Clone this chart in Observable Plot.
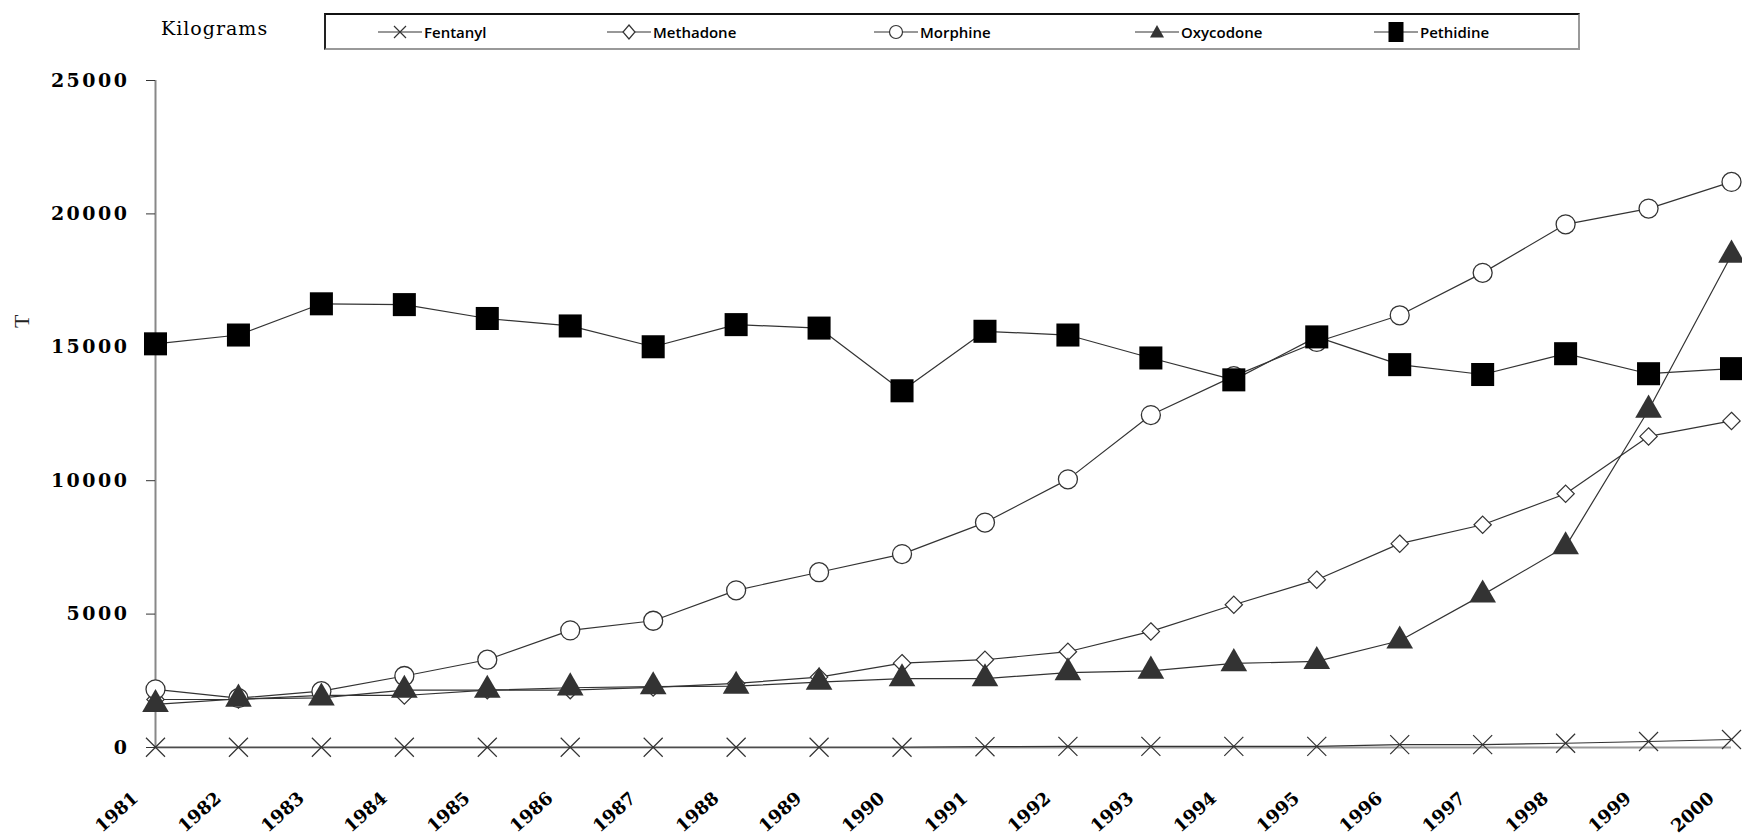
<!DOCTYPE html>
<html>
<head>
<meta charset="utf-8">
<script src="https://cdn.jsdelivr.net/npm/d3@7"></script>
<script src="https://cdn.jsdelivr.net/npm/@observablehq/plot@0.6"></script>
<style>
  body { margin: 0; background: #fff; }
  #wrap { position: relative; width: 1742px; height: 838px; overflow: hidden; }
  #head { position: relative; width: 1742px; height: 55px; }
  #kg { position: absolute; left: 161px; top: 17px; font-family: "DejaVu Serif"; font-size: 19px; letter-spacing: 1px; color: #000; }
  #legend { position: absolute; left: 324px; top: 13px; width: 1256px; height: 37px; box-sizing: border-box;
            border-top: 2px solid #111; border-left: 2px solid #222; border-right: 2px solid #999; border-bottom: 2px solid #999; }
  .item { position: absolute; top: 0; height: 100%; display: flex; align-items: center;
          font-family: "Open Sans"; font-weight: 600; font-size: 15px; color: #000; white-space: nowrap; }
  .item svg { margin-right: 2px; display: block; }
  #chart svg g[aria-label="y-axis tick label"] text { letter-spacing: 2.5px; }
</style>
</head>
<body>
<div id="wrap">
  <div id="head">
    <div id="kg">Kilograms</div>
    <div id="legend"></div>
  </div>
  <div id="chart"></div>
</div>
<script>
// ---- data (kilograms) ----
const years = [1981, 1982, 1983, 1984, 1985, 1986, 1987, 1988, 1989, 1990,
               1991, 1992, 1993, 1994, 1995, 1996, 1997, 1998, 1999, 2000];
const seriesNames = ["Fentanyl", "Methadone", "Morphine", "Oxycodone", "Pethidine"];
const fentanyl  = [10, 10, 10, 10, 10, 10, 10, 10, 10, 10, 30, 40, 40, 40, 40, 110, 110, 160, 225, 300];
const methadone = [1800, 1800, 1950, 1950, 2150, 2150, 2250, 2400, 2640, 3160, 3290, 3590, 4350, 5350, 6290, 7640, 8350, 9510, 11660, 12240];
const morphine  = [2180, 1850, 2110, 2680, 3290, 4390, 4750, 5890, 6570, 7250, 8430, 10050, 12460, 13920, 15200, 16200, 17790, 19610, 20200, 21200];
const oxycodone = [1620, 1820, 1860, 2150, 2150, 2240, 2280, 2300, 2450, 2580, 2580, 2810, 2870, 3150, 3230, 4000, 5720, 7530, 12650, 18460];
const pethidine = [15130, 15460, 16630, 16600, 16080, 15800, 15020, 15850, 15720, 13370, 15600, 15460, 14600, 13780, 15390, 14350, 13980, 14760, 14010, 14200];
const yTicks = [0, 5000, 10000, 15000, 20000, 25000];

const valuesByName = {Fentanyl: fentanyl, Methadone: methadone, Morphine: morphine, Oxycodone: oxycodone, Pethidine: pethidine};

// ---- styles ----
const styles = {
  Fentanyl:  {symbol: "times",    r: 8.7,  fill: "none",  stroke: "#333", sw: 1.2},
  Methadone: {symbol: "diamond2", r: 7.8,  fill: "#fff",  stroke: "#333", sw: 1.2},
  Morphine:  {symbol: "circle",   r: 9.5,  fill: "#fff",  stroke: "#333", sw: 1.3},
  Oxycodone: {symbol: "triangle", r: 9.9,  fill: "#333",  stroke: "none", sw: 0},
  Pethidine: {symbol: "square",   r: 13,   fill: "#000",  stroke: "none", sw: 0}
};
const legendLeft = {Fentanyl: 52, Methadone: 281, Morphine: 548, Oxycodone: 809, Pethidine: 1048};

const rows = seriesNames.flatMap(name => years.map((yr, i) => ({name, year: yr, value: valuesByName[name][i]})));

const font = {fontFamily: "DejaVu Serif", fontWeight: "bold"};

const marks = [
  Plot.ruleY([0], {x1: 1981, x2: 2000, stroke: "#999", strokeWidth: 2}),
  Plot.ruleX([1981], {y1: 0, y2: 25000, stroke: "#888", strokeWidth: 2}),
  Plot.axisY({ticks: yTicks, tickSize: 9, tickPadding: 17, tickFormat: d => String(d),
              stroke: "#333", fill: "#000", label: null, fontSize: 19, ...font}),
  Plot.text(years, {x: d => d, frameAnchor: "bottom", text: d => String(d), rotate: -42,
                    textAnchor: "end", lineAnchor: "middle", dx: -20, dy: 48, fill: "#000",
                    fontSize: 18, ...font}),
  Plot.text(["T"], {frameAnchor: "left", rotate: -90, dx: -134, dy: -86, fontFamily: "Liberation Serif", fontSize: 22, fill: "#222"})
];
for (const name of seriesNames) {
  const data = rows.filter(d => d.name === name);
  marks.push(Plot.line(data, {x: "year", y: "value", stroke: "#333", strokeWidth: 1.2}));
}
for (const name of seriesNames) {
  const s = styles[name];
  const data = rows.filter(d => d.name === name);
  marks.push(Plot.dot(data, {x: "year", y: "value", symbol: () => s.symbol, r: s.r,
                             fill: s.fill, stroke: s.stroke, strokeWidth: s.sw}));
}

const chart = Plot.plot({
  width: 1742, height: 783,
  marginLeft: 155, marginRight: 11, marginTop: 25, marginBottom: 91,
  x: {domain: [1981, 2000], axis: null},
  y: {domain: [0, 25000], axis: null},
  symbol: {type: "identity"},
  style: {background: "#fff", overflow: "visible"},
  marks
});
document.getElementById("chart").appendChild(chart);

// ---- legend ----
function symbolSvg(name) {
  const W = 44, H = 22, cx = 22, cy = 11;
  let shape = "";
  if (name === "Fentanyl") shape = `<path d="M${cx-6},${cy-6}L${cx+6},${cy+6}M${cx-6},${cy+6}L${cx+6},${cy-6}" stroke="#333" stroke-width="1.2" fill="none"/>`;
  if (name === "Methadone") shape = `<path d="M${cx},${cy-7}L${cx+6},${cy}L${cx},${cy+7}L${cx-6},${cy}Z" stroke="#333" stroke-width="1.2" fill="#fff"/>`;
  if (name === "Morphine") shape = `<circle cx="${cx}" cy="${cy}" r="6.5" stroke="#333" stroke-width="1.2" fill="#fff"/>`;
  if (name === "Oxycodone") shape = `<path d="M${cx},${cy-7}L${cx+7},${cy+5.5}L${cx-7},${cy+5.5}Z" fill="#333"/>`;
  if (name === "Pethidine") shape = `<rect x="${cx-7.5}" y="${cy-10}" width="15" height="20" fill="#000"/>`;
  return `<svg width="${W}" height="${H}" viewBox="0 0 ${W} ${H}"><line x1="0" x2="${W}" y1="${cy}" y2="${cy}" stroke="#333" stroke-width="1.2"/>${shape}</svg>`;
}
const legend = document.getElementById("legend");
for (const name of seriesNames) {
  const div = document.createElement("div");
  div.className = "item";
  div.style.left = legendLeft[name] + "px";
  div.innerHTML = symbolSvg(name) + `<span>${name}</span>`;
  legend.appendChild(div);
}
</script>
</body>
</html>
